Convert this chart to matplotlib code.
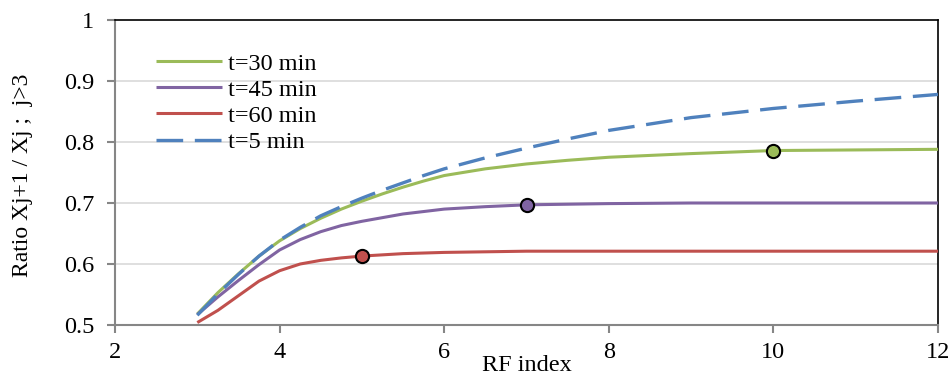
import matplotlib
matplotlib.use("Agg")
import matplotlib.pyplot as plt

x = [3, 3.25, 3.5, 3.75, 4, 4.25, 4.5, 4.75, 5, 5.25, 5.5, 5.75, 6, 6.5, 7, 7.5, 8, 9, 10, 11, 12]
t30 = [0.518, 0.553, 0.584, 0.613, 0.638, 0.658, 0.675, 0.690, 0.703, 0.715, 0.726, 0.736, 0.745, 0.756, 0.764, 0.770, 0.775, 0.781, 0.786, 0.787, 0.788]
t45 = [0.517, 0.546, 0.573, 0.599, 0.623, 0.640, 0.653, 0.663, 0.670, 0.676, 0.682, 0.686, 0.690, 0.694, 0.697, 0.698, 0.699, 0.700, 0.700, 0.700, 0.700]
t60 = [0.504, 0.524, 0.548, 0.572, 0.589, 0.600, 0.606, 0.610, 0.613, 0.615, 0.617, 0.618, 0.619, 0.620, 0.621, 0.621, 0.621, 0.621, 0.621, 0.621, 0.621]
t5 = [0.516, 0.551, 0.583, 0.613, 0.639, 0.660, 0.679, 0.694, 0.708, 0.721, 0.733, 0.745, 0.756, 0.774, 0.790, 0.805, 0.819, 0.840, 0.855, 0.867, 0.878]

marker_x = [10, 7, 5]
marker_y = [0.786, 0.697, 0.613]

labels = ["t=30 min", "t=45 min", "t=60 min", "t=5 min"]
colors = ["#9BBB59", "#8064A2", "#C0504D", "#4F81BD"]
yticks = [0.5, 0.6, 0.7, 0.8, 0.9, 1.0]
ytick_labels = ["0.5", "0.6", "0.7", "0.8", "0.9", "1"]
xticks = [2, 4, 6, 8, 10, 12]

plt.rcParams['font.family'] = ['Liberation Serif', 'DejaVu Serif']

fig = plt.figure(figsize=(9.52, 3.76), dpi=100)
ax = fig.add_axes([115/952, 1-325/376, 823/952, 305/376])

for val in [0.6, 0.7, 0.8, 0.9]:
    ax.axhline(val, color="#D9D9D9", lw=1.2, zorder=0)

lw = 2.2
kw = dict(solid_joinstyle='round', solid_capstyle='butt', zorder=3)
ax.plot(x, t30, color=colors[0], lw=lw, label=labels[0], **kw)
ax.plot(x, t45, color=colors[1], lw=lw, label=labels[1], **kw)
ax.plot(x, t60, color=colors[2], lw=lw, label=labels[2], **kw)
ax.plot(x, t5, color=colors[3], lw=2.4, ls=(0, (8, 3.5)), label=labels[3],
        dash_joinstyle='round', zorder=3)

for mx, my, c in zip(marker_x, marker_y, colors[:3]):
    ax.plot([mx], [my], 'o', ms=9.5, mfc=c, mec='black', mew=1.5, zorder=5)

ax.set_xlim(2, 12)
ax.set_ylim(0.5, 1.0)
ax.set_xticks(xticks)
ax.set_xticklabels([str(v) for v in xticks])
ax.set_yticks(yticks)
ax.set_yticklabels(ytick_labels)

for s in ['left', 'bottom']:
    ax.spines[s].set_color('#868686')
    ax.spines[s].set_linewidth(1.5)
for s in ['top', 'right']:
    ax.spines[s].set_color('black')
    ax.spines[s].set_linewidth(1.2)

ax.tick_params(axis='both', direction='out', color='#868686', width=1.5, length=6,
               labelsize=17.5, labelcolor='black')
ax.tick_params(axis='y', pad=9)
ax.tick_params(axis='x', pad=6)

ax.set_xlabel("RF index", fontsize=17.5)
ax.xaxis.set_label_coords(0.5, -0.134)
ax.xaxis.label.set_va('center')
ax.set_ylabel("Ratio Xj+1 / Xj ;  j>3", fontsize=17)
ax.yaxis.set_label_coords(-0.113, 0.49)
ax.yaxis.label.set_va('center')

leg = ax.legend(loc='upper left', bbox_to_anchor=(0.038, 0.925), frameon=False,
                fontsize=17.5, handlelength=2.7, handletextpad=0.25, labelspacing=0.17,
                borderaxespad=0.0)

fig.savefig("out.png", dpi=100)
